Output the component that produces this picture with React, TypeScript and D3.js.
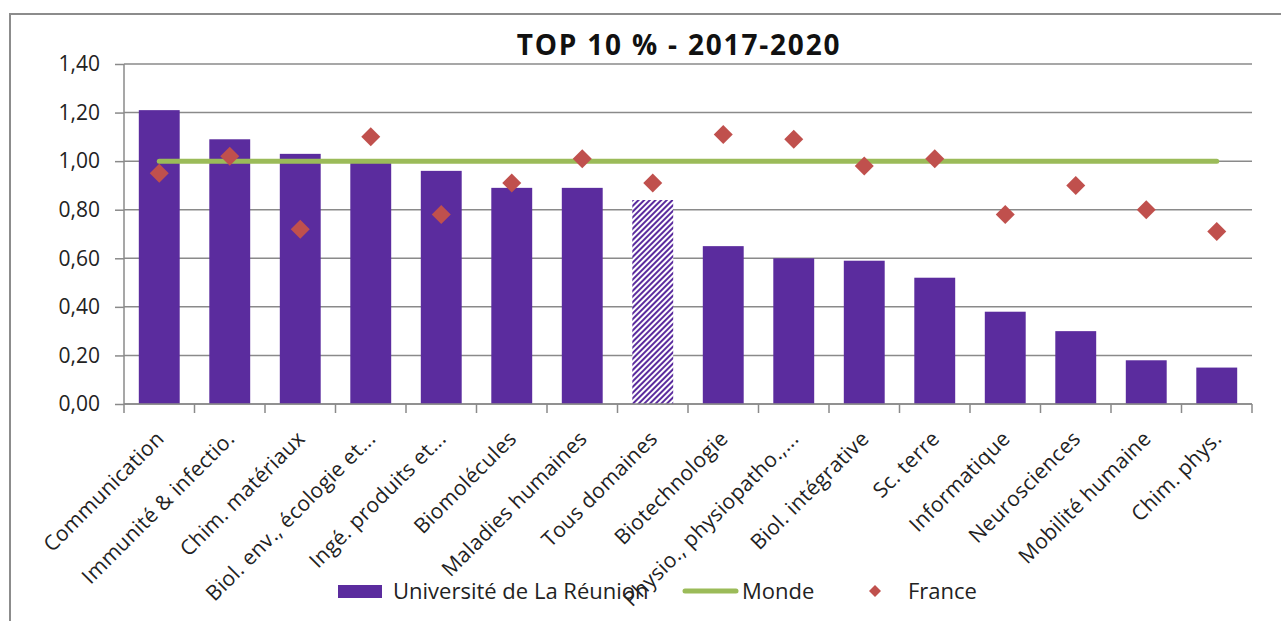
import { useRef, useEffect } from 'react';
import * as d3 from 'd3';

const categories = [
  'Communication', 'Immunité & infectio.', 'Chim. matériaux', 'Biol. env., écologie et...',
  'Ingé. produits et...', 'Biomolécules', 'Maladies humaines', 'Tous domaines',
  'Biotechnologie', 'Physio., physiopatho.,...', 'Biol. intégrative', 'Sc. terre',
  'Informatique', 'Neurosciences', 'Mobilité humaine', 'Chim. phys.',
];
const universite = [1.21, 1.09, 1.03, 1.0, 0.96, 0.89, 0.89, 0.84, 0.65, 0.6, 0.59, 0.52, 0.38, 0.3, 0.18, 0.15];
const france = [0.95, 1.02, 0.72, 1.1, 0.78, 0.91, 1.01, 0.91, 1.11, 1.09, 0.98, 1.01, 0.78, 0.9, 0.8, 0.71];
const monde = 1.0;
const highlighted = 'Tous domaines';
const yTicks = [0, 0.2, 0.4, 0.6, 0.8, 1.0, 1.2, 1.4];

const W = 1281, H = 621;
const PURPLE = '#5b2c9e';
const GREEN = '#9bbb59';
const RED = '#c0504d';
const GRID = '#8a8a8a';
const FONT = '"Open Sans", "Noto Sans", sans-serif';

export default function App() {
  const ref = useRef<SVGSVGElement>(null);

  useEffect(() => {
    const svg = d3.select(ref.current);
    svg.selectAll('*').remove();
    const m = { top: 64, left: 124, right: W - 1252, bottom: H - 404 };

    const x = d3.scaleBand().domain(categories).range([m.left, W - m.right]).paddingInner(0.42).paddingOuter(0.21);
    const y = d3.scaleLinear().domain([0, 1.4]).range([H - m.bottom, m.top]);

    const defs = svg.append('defs');
    const pat = defs.append('pattern')
      .attr('id', 'hatch').attr('patternUnits', 'userSpaceOnUse')
      .attr('width', 4).attr('height', 4).attr('patternTransform', 'rotate(45)');
    pat.append('rect').attr('width', 4).attr('height', 4).attr('fill', '#fff');
    pat.append('rect').attr('width', 2).attr('height', 4).attr('fill', PURPLE);

    // outer frame
    svg.append('path').attr('d', `M10,${H} L10,14 L${W},14`)
      .attr('fill', 'none').attr('stroke', '#8c8c8c').attr('stroke-width', 2);

    // title
    svg.append('text').attr('x', 679).attr('y', 55).attr('text-anchor', 'middle')
      .attr('font-family', FONT).attr('font-weight', 700).attr('font-size', 28)
      .attr('letter-spacing', 1.8).attr('fill', '#111').text('TOP 10 % - 2017-2020');

    // grid + y axis
    const gy = svg.append('g').attr('transform', `translate(${m.left},0)`)
      .call(d3.axisLeft(y).tickValues(yTicks).tickSize(9).tickPadding(15)
        .tickFormat(d => d3.format('.2f')(d as number).replace('.', ',')));
    gy.select('.domain').remove();
    gy.selectAll('line').attr('stroke', GRID).attr('stroke-width', 1.5);
    gy.selectAll('text').attr('font-family', FONT).attr('font-size', 21).attr('fill', '#222');
    svg.append('g').selectAll('line').data(yTicks).join('line')
      .attr('x1', m.left).attr('x2', W - m.right)
      .attr('y1', d => y(d)).attr('y2', d => y(d))
      .attr('stroke', GRID).attr('stroke-width', 1.5);
    svg.append('line').attr('x1', m.left).attr('x2', m.left).attr('y1', y(1.4)).attr('y2', y(0))
      .attr('stroke', GRID).attr('stroke-width', 1.5);

    // bars
    svg.append('g').selectAll('rect').data(categories).join('rect')
      .attr('x', d => x(d)!).attr('width', x.bandwidth())
      .attr('y', (d, i) => y(universite[i])).attr('height', (d, i) => y(0) - y(universite[i]))
      .attr('fill', d => d === highlighted ? 'url(#hatch)' : PURPLE);

    // x axis ticks at category boundaries
    const step = x.step();
    const bounds = d3.range(categories.length + 1).map(i => m.left + i * step);
    svg.append('g').selectAll('line').data(bounds).join('line')
      .attr('x1', d => d).attr('x2', d => d).attr('y1', y(0)).attr('y2', y(0) + 9)
      .attr('stroke', GRID).attr('stroke-width', 1.5);
    svg.append('line').attr('x1', m.left).attr('x2', W - m.right).attr('y1', y(0)).attr('y2', y(0))
      .attr('stroke', GRID).attr('stroke-width', 1.5);

    // x labels
    svg.append('g').selectAll('text').data(categories).join('text')
      .attr('transform', d => `translate(${x(d)! + x.bandwidth() / 2 + 6},${y(0) + 36}) rotate(-45)`)
      .attr('text-anchor', 'end').attr('font-family', FONT).attr('font-size', 21)
      .attr('letter-spacing', 0.3).attr('fill', '#222')
      .text(d => d);

    // monde line
    const c0 = x(categories[0])! + x.bandwidth() / 2;
    const c1 = x(categories[categories.length - 1])! + x.bandwidth() / 2;
    svg.append('line').attr('x1', c0).attr('x2', c1).attr('y1', y(monde)).attr('y2', y(monde))
      .attr('stroke', GREEN).attr('stroke-width', 5).attr('stroke-linecap', 'round');

    // france diamonds
    svg.append('g').selectAll('path').data(categories).join('path')
      .attr('d', d3.symbol(d3.symbolSquare, 180)())
      .attr('transform', (d, i) => `translate(${x(d)! + x.bandwidth() / 2},${y(france[i])}) rotate(45)`)
      .attr('fill', RED);

    // legend
    const lg = svg.append('g').attr('font-family', FONT).attr('font-size', 22).attr('fill', '#222');
    lg.append('rect').attr('x', 338).attr('y', 585).attr('width', 44).attr('height', 13).attr('fill', PURPLE);
    lg.append('text').attr('x', 393).attr('y', 599).text('Université de La Réunion');
    lg.append('line').attr('x1', 685).attr('x2', 736).attr('y1', 591).attr('y2', 591)
      .attr('stroke', GREEN).attr('stroke-width', 5).attr('stroke-linecap', 'round');
    lg.append('text').attr('x', 742).attr('y', 599).text('Monde');
    lg.append('path').attr('d', d3.symbol(d3.symbolSquare, 72)())
      .attr('transform', 'translate(875,591) rotate(45)').attr('fill', RED);
    lg.append('text').attr('x', 908).attr('y', 599).text('France');
  }, []);

  return (
    <svg ref={ref} width={W} height={H}
      style={{ position: 'absolute', left: 0, top: 0, background: '#fff', display: 'block' }} />
  );
}
